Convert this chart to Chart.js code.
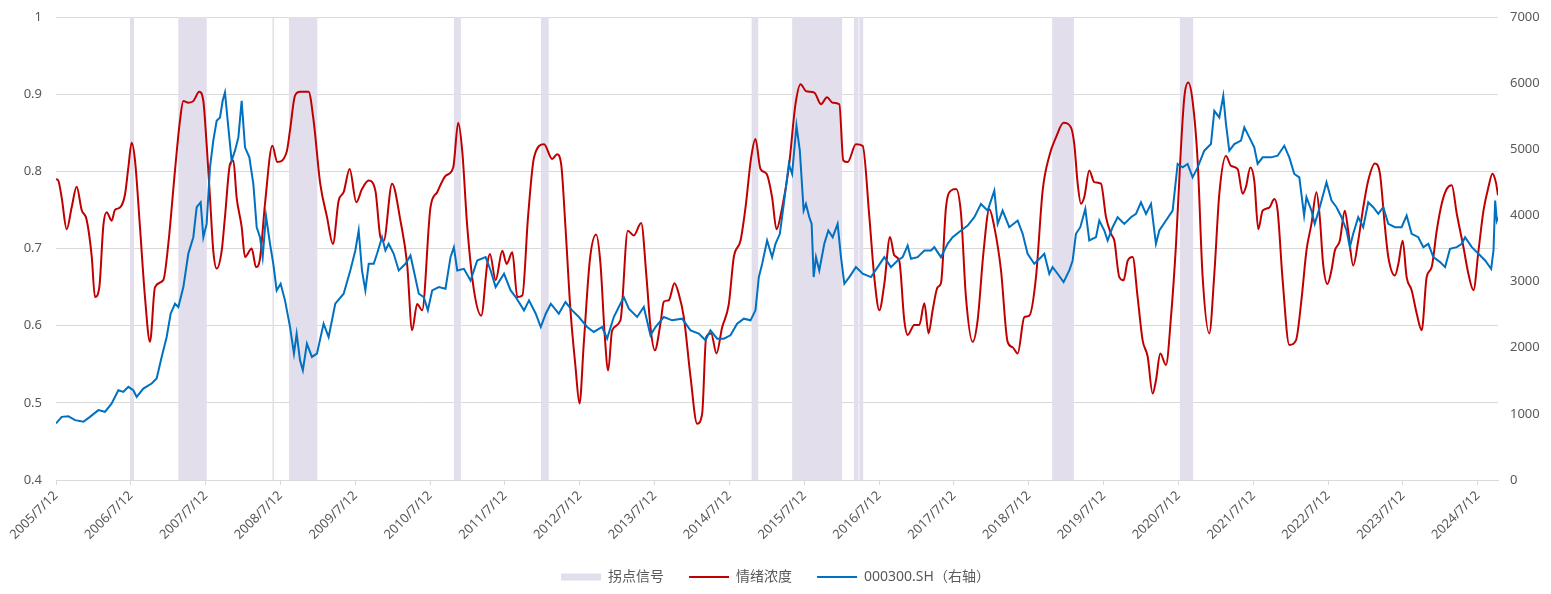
<!DOCTYPE html>
<html lang="zh-CN">
<head>
<meta charset="utf-8">
<title>情绪浓度与沪深300</title>
<script src="https://cdn.jsdelivr.net/npm/chart.js"></script>
<style>
    html, body { margin: 0; padding: 0; background: #ffffff; }
    #wrap { width: 1551px; height: 594px; position: relative; }
</style>
</head>
<body>
<div id="wrap"><canvas id="sentimentChart"></canvas></div>
<script>
// x positions are years counted from 2005/7/12 (first tick)
const tickLabels = ['2005/7/12', '2006/7/12', '2007/7/12', '2008/7/12', '2009/7/12', '2010/7/12',
    '2011/7/12', '2012/7/12', '2013/7/12', '2014/7/12', '2015/7/12', '2016/7/12', '2017/7/12',
    '2018/7/12', '2019/7/12', '2020/7/12', '2021/7/12', '2022/7/12', '2023/7/12', '2024/7/12'];
const lastX = 19.27;

// 拐点信号 periods (start / end, years from 2005/7/12)
const signalStart = [0.989, 1.634, 2.893, 3.113, 5.318, 6.481, 9.296, 9.838, 10.663, 10.735, 13.312, 15.019];
const signalEnd   = [1.042, 2.014, 2.913, 3.492, 5.411, 6.584, 9.384, 10.506, 10.725, 10.787, 13.602, 15.196];

// 情绪浓度 (left axis)
const moodX = [0, 0.031, 0.076, 0.143, 0.209, 0.276, 0.343, 0.410, 0.477, 0.521,
    0.579, 0.633, 0.677, 0.744, 0.788, 0.855, 0.922, 0.967, 1.011, 1.056,
    1.122, 1.189, 1.256, 1.323, 1.434, 1.501, 1.590, 1.657, 1.702, 1.768,
    1.835, 1.915, 1.969, 2.013, 2.058, 2.102, 2.147, 2.214, 2.258, 2.325,
    2.370, 2.414, 2.481, 2.526, 2.615, 2.673, 2.726, 2.793, 2.891, 2.958,
    3.082, 3.127, 3.194, 3.263, 3.375, 3.442, 3.531, 3.621, 3.701, 3.777,
    3.844, 3.924, 4.013, 4.089, 4.179, 4.268, 4.335, 4.379, 4.491, 4.603,
    4.692, 4.759, 4.826, 4.893, 5.004, 5.094, 5.205, 5.308, 5.375, 5.429,
    5.496, 5.585, 5.683, 5.763, 5.799, 5.875, 5.964, 6.022, 6.098, 6.165,
    6.232, 6.308, 6.388, 6.522, 6.630, 6.697, 6.751, 6.808, 6.875, 6.942,
    6.996, 7.053, 7.134, 7.218, 7.276, 7.334, 7.379, 7.432, 7.543, 7.641,
    7.722, 7.820, 7.891, 7.944, 8.002, 8.078, 8.122, 8.189, 8.265, 8.323,
    8.390, 8.479, 8.568, 8.635, 8.688, 8.755, 8.826, 8.902, 8.991, 9.058,
    9.147, 9.214, 9.290, 9.347, 9.414, 9.494, 9.570, 9.628, 9.704, 9.793,
    9.882, 9.950, 10.022, 10.134, 10.223, 10.303, 10.379, 10.468, 10.521, 10.579,
    10.690, 10.780, 10.869, 10.935, 11.002, 11.069, 11.145, 11.203, 11.269, 11.336,
    11.381, 11.470, 11.537, 11.604, 11.661, 11.715, 11.782, 11.826, 11.893, 11.960,
    12.027, 12.094, 12.160, 12.249, 12.316, 12.396, 12.472, 12.539, 12.628, 12.717,
    12.784, 12.851, 12.940, 13.007, 13.096, 13.185, 13.274, 13.363, 13.465, 13.563,
    13.608, 13.653, 13.697, 13.742, 13.808, 13.875, 13.964, 14.031, 14.098, 14.143,
    14.209, 14.267, 14.321, 14.388, 14.454, 14.521, 14.588, 14.655, 14.699, 14.757,
    14.833, 14.900, 14.967, 15.024, 15.078, 15.131, 15.189, 15.256, 15.323, 15.412,
    15.479, 15.546, 15.635, 15.702, 15.791, 15.857, 15.902, 15.960, 16.013, 16.067,
    16.125, 16.214, 16.281, 16.325, 16.392, 16.481, 16.570, 16.643, 16.710, 16.777,
    16.844, 16.888, 16.933, 16.991, 17.045, 17.089, 17.156, 17.223, 17.268, 17.335,
    17.402, 17.469, 17.536, 17.625, 17.692, 17.759, 17.804, 17.893, 17.938, 17.996,
    18.049, 18.116, 18.183, 18.250, 18.317, 18.384, 18.451, 18.518, 18.585, 18.652,
    18.719, 18.808, 18.875, 18.942, 19.009, 19.076, 19.143, 19.196, 19.241, 19.270];
const moodValues = [0.790, 0.788, 0.766, 0.725, 0.753, 0.780, 0.750, 0.737, 0.690, 0.637,
    0.650, 0.730, 0.747, 0.736, 0.750, 0.753, 0.770, 0.805, 0.837, 0.814,
    0.728, 0.637, 0.579, 0.650, 0.659, 0.706, 0.801, 0.866, 0.891, 0.889,
    0.891, 0.903, 0.891, 0.835, 0.766, 0.697, 0.674, 0.697, 0.741, 0.809,
    0.814, 0.766, 0.728, 0.689, 0.700, 0.676, 0.687, 0.758, 0.833, 0.812,
    0.825, 0.853, 0.898, 0.903, 0.903, 0.866, 0.784, 0.741, 0.706, 0.762,
    0.773, 0.803, 0.760, 0.777, 0.788, 0.775, 0.715, 0.710, 0.784, 0.736,
    0.680, 0.594, 0.628, 0.620, 0.753, 0.773, 0.794, 0.805, 0.863, 0.826,
    0.728, 0.646, 0.613, 0.680, 0.693, 0.659, 0.697, 0.680, 0.695, 0.637,
    0.639, 0.741, 0.818, 0.835, 0.816, 0.822, 0.809, 0.728, 0.620, 0.547,
    0.499, 0.577, 0.685, 0.718, 0.680, 0.586, 0.542, 0.594, 0.607, 0.723,
    0.717, 0.733, 0.663, 0.598, 0.568, 0.603, 0.631, 0.633, 0.655, 0.641,
    0.611, 0.534, 0.473, 0.486, 0.585, 0.590, 0.564, 0.598, 0.628, 0.689,
    0.710, 0.753, 0.818, 0.842, 0.803, 0.797, 0.766, 0.725, 0.753, 0.805,
    0.887, 0.913, 0.904, 0.902, 0.887, 0.896, 0.889, 0.887, 0.814, 0.812,
    0.835, 0.833, 0.741, 0.663, 0.620, 0.654, 0.715, 0.691, 0.684, 0.607,
    0.588, 0.601, 0.601, 0.629, 0.590, 0.620, 0.650, 0.655, 0.753, 0.775,
    0.777, 0.745, 0.637, 0.579, 0.607, 0.697, 0.751, 0.728, 0.672, 0.579,
    0.572, 0.564, 0.611, 0.613, 0.663, 0.775, 0.820, 0.844, 0.863, 0.857,
    0.835, 0.784, 0.758, 0.767, 0.801, 0.786, 0.784, 0.741, 0.719, 0.710,
    0.663, 0.659, 0.684, 0.689, 0.637, 0.581, 0.560, 0.512, 0.529, 0.564,
    0.549, 0.611, 0.705, 0.814, 0.896, 0.915, 0.891, 0.814, 0.663, 0.590,
    0.667, 0.771, 0.820, 0.807, 0.803, 0.771, 0.780, 0.805, 0.788, 0.725,
    0.749, 0.753, 0.764, 0.749, 0.659, 0.575, 0.581, 0.633, 0.697, 0.732,
    0.773, 0.741, 0.680, 0.654, 0.672, 0.697, 0.710, 0.749, 0.723, 0.678,
    0.710, 0.753, 0.788, 0.810, 0.797, 0.728, 0.689, 0.665, 0.680, 0.710,
    0.663, 0.646, 0.616, 0.594, 0.663, 0.676, 0.723, 0.758, 0.777, 0.782,
    0.745, 0.702, 0.667, 0.646, 0.697, 0.749, 0.780, 0.797, 0.786, 0.769];

// 000300.SH close (right axis)
const indexX = [0, 0.076, 0.165, 0.254, 0.365, 0.454, 0.566, 0.655, 0.744, 0.833,
    0.900, 0.967, 1.033, 1.078, 1.167, 1.278, 1.345, 1.412, 1.479, 1.532,
    1.590, 1.635, 1.702, 1.768, 1.835, 1.880, 1.933, 1.969, 2.013, 2.058,
    2.102, 2.147, 2.192, 2.227, 2.258, 2.303, 2.347, 2.392, 2.437, 2.481,
    2.526, 2.584, 2.637, 2.682, 2.726, 2.762, 2.806, 2.860, 2.904, 2.949,
    3.002, 3.060, 3.127, 3.180, 3.216, 3.261, 3.299, 3.353, 3.420, 3.487,
    3.576, 3.643, 3.732, 3.844, 3.933, 4.000, 4.045, 4.089, 4.134, 4.179,
    4.246, 4.290, 4.357, 4.402, 4.446, 4.513, 4.580, 4.670, 4.737, 4.781,
    4.848, 4.915, 4.969, 5.027, 5.116, 5.205, 5.272, 5.317, 5.362, 5.451,
    5.540, 5.629, 5.741, 5.808, 5.875, 5.987, 6.076, 6.143, 6.254, 6.321,
    6.411, 6.478, 6.545, 6.612, 6.719, 6.808, 6.898, 6.987, 7.098, 7.187,
    7.298, 7.365, 7.454, 7.521, 7.588, 7.655, 7.766, 7.855, 7.944, 8.011,
    8.122, 8.234, 8.367, 8.479, 8.590, 8.679, 8.746, 8.835, 8.924, 9.013,
    9.102, 9.192, 9.281, 9.347, 9.392, 9.437, 9.503, 9.570, 9.615, 9.673,
    9.726, 9.793, 9.837, 9.895, 9.940, 9.991, 10.022, 10.067, 10.098, 10.125,
    10.156, 10.200, 10.267, 10.321, 10.379, 10.445, 10.490, 10.535, 10.601, 10.690,
    10.780, 10.891, 10.980, 11.069, 11.158, 11.247, 11.314, 11.381, 11.425, 11.514,
    11.604, 11.693, 11.737, 11.826, 11.915, 11.982, 12.094, 12.183, 12.272, 12.361,
    12.450, 12.539, 12.584, 12.650, 12.739, 12.851, 12.918, 12.984, 13.073, 13.163,
    13.207, 13.274, 13.318, 13.385, 13.465, 13.541, 13.586, 13.630, 13.688, 13.755,
    13.808, 13.898, 13.942, 14.009, 14.053, 14.120, 14.187, 14.276, 14.365, 14.432,
    14.499, 14.566, 14.633, 14.699, 14.744, 14.833, 14.922, 14.989, 15.056, 15.122,
    15.189, 15.256, 15.345, 15.434, 15.479, 15.546, 15.599, 15.635, 15.679, 15.746,
    15.835, 15.880, 15.947, 16.013, 16.058, 16.125, 16.236, 16.325, 16.414, 16.481,
    16.548, 16.615, 16.679, 16.710, 16.777, 16.821, 16.888, 16.978, 17.045, 17.112,
    17.179, 17.246, 17.290, 17.335, 17.402, 17.469, 17.536, 17.603, 17.670, 17.737,
    17.804, 17.893, 17.982, 18.049, 18.116, 18.205, 18.272, 18.339, 18.406, 18.496,
    18.563, 18.629, 18.719, 18.786, 18.830, 18.920, 19.009, 19.098, 19.179, 19.210,
    19.232, 19.254, 19.270];
const indexValues = [855, 955, 965, 905, 880, 955, 1056, 1031, 1157, 1358,
    1333, 1408, 1358, 1257, 1383, 1458, 1534, 1861, 2162, 2514,
    2665, 2615, 2917, 3420, 3671, 4124, 4199, 3671, 3872, 4727,
    5130, 5431, 5481, 5733, 5859, 5331, 4828, 4979, 5180, 5733,
    5029, 4878, 4476, 3822, 3671, 3369, 3998, 3571, 3269, 2866,
    2967, 2716, 2320, 1911, 2213, 1810, 1660, 2062, 1861, 1911,
    2364, 2162, 2665, 2816, 3168, 3470, 3772, 3168, 2866, 3269,
    3269, 3420, 3671, 3470, 3571, 3420, 3168, 3269, 3395, 3168,
    2816, 2766, 2565, 2866, 2917, 2892, 3369, 3520, 3168, 3193,
    3017, 3319, 3369, 3168, 2917, 3118, 2866, 2766, 2565, 2716,
    2514, 2313, 2514, 2665, 2514, 2690, 2565, 2464, 2313, 2238,
    2313, 2137, 2464, 2615, 2766, 2590, 2464, 2615, 2188, 2313,
    2464, 2414, 2439, 2263, 2213, 2112, 2263, 2137, 2137, 2188,
    2364, 2439, 2414, 2565, 3068, 3269, 3621, 3369, 3571, 3722,
    4174, 4778, 4627, 5356, 4979, 4073, 4174, 3973, 3872, 3068,
    3369, 3168, 3571, 3772, 3671, 3872, 3369, 2967, 3068, 3219,
    3118, 3068, 3219, 3369, 3219, 3319, 3369, 3545, 3344, 3369,
    3470, 3470, 3520, 3369, 3571, 3671, 3772, 3847, 3973, 4174,
    4073, 4375, 3872, 4073, 3822, 3923, 3722, 3420, 3269, 3369,
    3420, 3118, 3219, 3118, 2992, 3168, 3319, 3722, 3822, 4099,
    3621, 3671, 3923, 3772, 3621, 3822, 3973, 3872, 3973, 4023,
    4199, 4023, 4174, 3571, 3772, 3923, 4073, 4778, 4727, 4778,
    4576, 4727, 4979, 5079, 5582, 5481, 5808, 5381, 4979, 5079,
    5130, 5331, 5180, 5029, 4778, 4878, 4878, 4903, 5054, 4878,
    4627, 4576, 3998, 4275, 4073, 3872, 4124, 4501, 4224, 4124,
    3973, 3772, 3520, 3722, 3973, 3822, 4199, 4124, 4023, 4124,
    3872, 3822, 3822, 3998, 3722, 3671, 3520, 3571, 3369, 3294,
    3219, 3495, 3520, 3571, 3671, 3520, 3420, 3319, 3193, 3470,
    4224, 3923, 3973];

const gridColor = '#d9d9d9';
const textColor = '#595959';
const fontFamily = '"Noto Sans", "Noto Sans CJK SC", sans-serif';

function toPoints(xs, ys) {
    return xs.map((x, i) => ({ x: x, y: ys[i] }));
}

// each signal period becomes a block 0 -> 1 -> 0 on a hidden 0..1 axis
function signalPoints() {
    const pts = [{ x: 0, y: 0 }];
    signalStart.forEach((s, i) => {
        pts.push({ x: s, y: 0 }, { x: s, y: 1 }, { x: signalEnd[i], y: 1 }, { x: signalEnd[i], y: 0 });
    });
    pts.push({ x: lastX, y: 0 });
    return pts;
}

// fixed axis width; drop the extra top/bottom room Chart.js keeps for labels
function fixAxis(width) {
    return (scale) => {
        scale.width = width;
        scale.paddingTop = 0;
        scale.paddingBottom = 0;
    };
}

function initializeChart() {
    const ctx = document.getElementById('sentimentChart');

    new Chart(ctx, {
        type: 'line',
        data: {
            datasets: [
                {
                    label: '拐点信号',
                    data: signalPoints(),
                    yAxisID: 'ySignal',
                    borderWidth: 0,
                    borderColor: 'rgba(0,0,0,0)',
                    backgroundColor: '#e2deeb',
                    fill: 'origin',
                    pointRadius: 0,
                    pointStyle: 'rect',
                    pointBackgroundColor: '#e2deeb',
                    pointBorderWidth: 0,
                    order: 3
                },
                {
                    label: '情绪浓度',
                    data: toPoints(moodX, moodValues),
                    yAxisID: 'y',
                    borderColor: '#c00000',
                    borderWidth: 2,
                    cubicInterpolationMode: 'monotone',
                    fill: false,
                    pointRadius: 0,
                    pointStyle: 'line',
                    pointBorderColor: '#c00000',
                    pointBorderWidth: 2,
                    order: 2
                },
                {
                    label: '000300.SH（右轴）',
                    data: toPoints(indexX, indexValues),
                    yAxisID: 'yRight',
                    borderColor: '#0070c0',
                    borderWidth: 2,
                    tension: 0,
                    fill: false,
                    pointRadius: 0,
                    pointStyle: 'line',
                    pointBorderColor: '#0070c0',
                    pointBorderWidth: 2,
                    order: 1
                }
            ]
        },
        options: {
            responsive: true,
            maintainAspectRatio: false,
            animation: false,
            events: [],
            layout: { padding: { top: 17, right: 0, bottom: 0, left: 0 } },
            scales: {
                x: {
                    type: 'linear',
                    min: 0,
                    max: lastX,
                    afterBuildTicks: (scale) => {
                        scale.ticks = tickLabels.map((_, i) => ({ value: i }));
                    },
                    afterFit: (scale) => { scale.height = 65; },
                    grid: { drawOnChartArea: false, drawTicks: true, tickLength: 5, color: gridColor },
                    border: { display: true, color: gridColor },
                    ticks: {
                        autoSkip: false,
                        maxRotation: 45,
                        minRotation: 45,
                        padding: 3,
                        color: textColor,
                        font: { family: fontFamily, size: 13 },
                        callback: (value) => tickLabels[Math.round(value)]
                    }
                },
                y: {
                    position: 'left',
                    min: 0.4,
                    max: 1,
                    afterFit: fixAxis(56),
                    grid: { color: gridColor, drawTicks: false },
                    border: { display: false },
                    ticks: {
                        stepSize: 0.1,
                        padding: 14,
                        color: textColor,
                        font: { family: fontFamily, size: 13 },
                        callback: (value) => String(+value.toFixed(1))
                    }
                },
                yRight: {
                    position: 'right',
                    min: 0,
                    max: 7000,
                    afterFit: fixAxis(53),
                    grid: { drawOnChartArea: false, drawTicks: false },
                    border: { display: false },
                    ticks: {
                        stepSize: 1000,
                        padding: 12,
                        color: textColor,
                        font: { family: fontFamily, size: 13 },
                        callback: (value) => String(value)
                    }
                },
                ySignal: {
                    display: false,
                    min: 0,
                    max: 1
                }
            },
            plugins: {
                tooltip: { enabled: false },
                legend: {
                    position: 'bottom',
                    labels: {
                        usePointStyle: true,
                        pointStyleWidth: 40,
                        boxHeight: 7,
                        padding: 25,
                        color: textColor,
                        font: { family: fontFamily, size: 14 },
                        sort: (a, b) => a.datasetIndex - b.datasetIndex
                    }
                }
            }
        }
    });
}

document.addEventListener('DOMContentLoaded', initializeChart);
</script>
</body>
</html>
